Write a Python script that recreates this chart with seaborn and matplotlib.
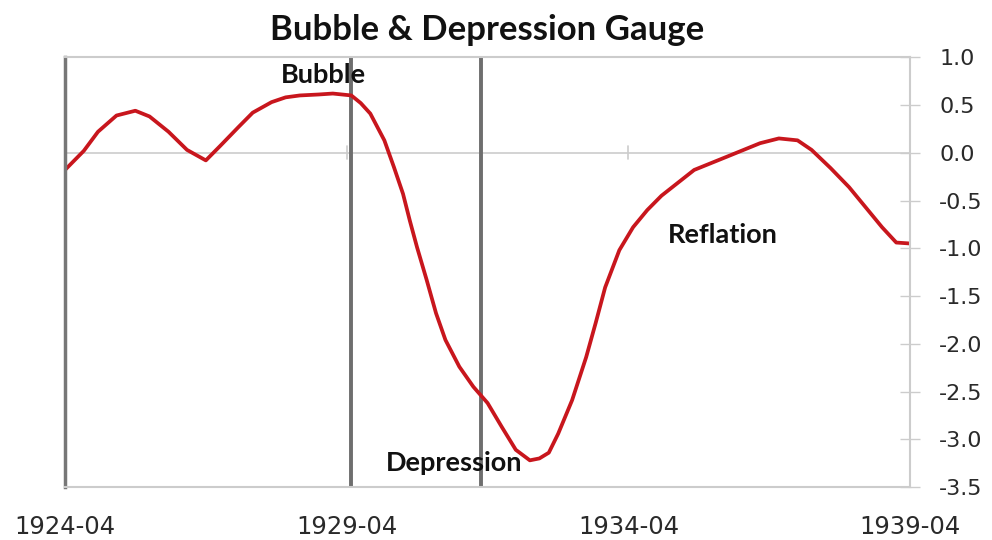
import pandas as pd
import matplotlib.pyplot as plt
import seaborn as sns

# Gauge readings
dates = ["1924-04", "1924-08", "1924-11", "1925-03", "1925-07", "1925-10", "1926-02",
         "1926-06", "1926-10", "1927-01", "1927-05", "1927-08", "1927-12", "1928-03",
         "1928-06", "1928-10", "1929-01", "1929-05", "1929-07", "1929-09", "1929-12",
         "1930-02", "1930-04", "1930-05-15", "1930-07", "1930-09", "1930-11", "1931-01",
         "1931-04", "1931-07", "1931-10", "1932-01", "1932-04", "1932-07", "1932-09",
         "1932-11", "1933-01", "1933-04", "1933-07", "1933-09", "1933-11", "1934-02",
         "1934-05", "1934-08", "1934-11", "1935-06", "1936-01", "1936-08", "1936-12",
         "1937-04", "1937-07", "1937-11", "1938-03", "1938-10", "1939-01", "1939-04"]
gauge = [-0.18, 0.02, 0.22, 0.39, 0.44, 0.38, 0.22,
         0.03, -0.08, 0.07, 0.27, 0.42, 0.53, 0.58,
         0.60, 0.61, 0.62, 0.60, 0.52, 0.41, 0.13,
         -0.15, -0.43, -0.71, -0.99, -1.33, -1.68, -1.96,
         -2.24, -2.45, -2.62, -2.87, -3.11, -3.22, -3.20,
         -3.14, -2.94, -2.59, -2.14, -1.78, -1.41, -1.02,
         -0.78, -0.60, -0.45, -0.18, -0.04, 0.10, 0.15,
         0.13, 0.03, -0.16, -0.36, -0.78, -0.94, -0.95]

xtick_labels = ["1924-04", "1929-04", "1934-04", "1939-04"]
ytick_values = [1.0, 0.5, 0.0, -0.5, -1.0, -1.5, -2.0, -2.5, -3.0, -3.5]
phase_lines = ["1929-05", "1931-08-20"]
phase_labels = ["Bubble", "Depression", "Reflation"]
phase_label_pos = [("1928-11", 0.81), ("1931-03", -3.25), ("1935-12", -0.86)]

df = pd.DataFrame({"date": pd.to_datetime(dates, format="mixed"), "gauge": gauge})

sns.set_style("white")
plt.rcParams["font.family"] = ["Lato", "DejaVu Sans"]

fig = plt.figure(figsize=(9.92, 5.40), dpi=100)
ax = fig.add_axes([0.0655, 0.098, 0.852, 0.796])

sns.lineplot(data=df, x="date", y="gauge", color="#c8161d", linewidth=2.7, ax=ax)

ax.set_ylim(-3.5, 1.0)
ax.set_xlim(pd.Timestamp("1924-04"), pd.Timestamp("1939-04"))
ax.set_yticks(ytick_values)
ax.set_yticklabels([f"{v:.1f}" for v in ytick_values], family="DejaVu Sans")
ax.yaxis.tick_right()
ax.tick_params(axis="y", which="major", direction="inout", length=14, width=1,
               color="#cccccc", labelsize=16, labelcolor="#2a2a2a", pad=14)

xt = pd.to_datetime(xtick_labels)
ax.set_xticks(xt)
ax.set_xticklabels(xtick_labels, family="DejaVu Sans")
ax.tick_params(axis="x", length=0, labelsize=17.5, labelcolor="#2a2a2a", pad=20)
ax.set_xlabel("")
ax.set_ylabel("")

# zero line with small ticks
ax.axhline(0, color="#cccccc", linewidth=1.2, zorder=0)
for t in xt[1:]:
    ax.plot([t, t], [-0.07, 0.07], color="#cccccc", linewidth=1.2, zorder=0)

for side in ["top", "bottom", "right"]:
    ax.spines[side].set_color("#cccccc")
    ax.spines[side].set_linewidth(1.5)
ax.spines["left"].set_color("#777777")
ax.spines["left"].set_linewidth(2.5)

for d in phase_lines:
    ax.axvline(pd.Timestamp(d), color="#6e6e6e", linewidth=2.8, zorder=1)

for lab, (d, v) in zip(phase_labels, phase_label_pos):
    ax.text(pd.Timestamp(d), v, lab, ha="center", va="center",
            fontsize=19.5, fontweight="bold", color="#111111", zorder=3)

fig.suptitle("Bubble & Depression Gauge", x=0.491, y=0.975, fontsize=25,
             fontweight="bold", color="#111111")

fig.savefig("out.png", dpi=100)
